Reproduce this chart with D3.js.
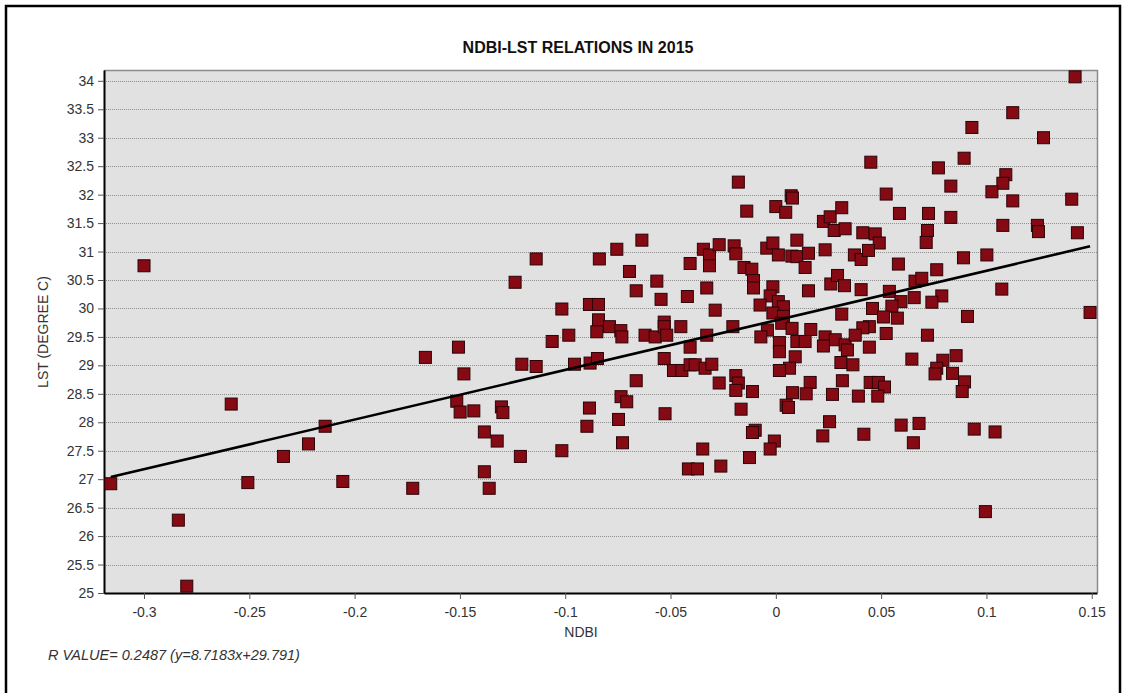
<!DOCTYPE html>
<html>
<head>
<meta charset="utf-8">
<script src="https://cdn.jsdelivr.net/npm/d3@7"></script>
<style>
  html, body { margin: 0; padding: 0; background: #ffffff; }
  svg { display: block; font-family: "Liberation Sans", Arial, sans-serif; }
</style>
</head>
<body>
<svg id="chart" width="1127" height="693"></svg>
<script>
// NDBI vs land surface temperature, 2015 sample points
const ndbi = [
  -0.3158, -0.3000, -0.2837, -0.2797, -0.2586, -0.2507, -0.2338, -0.2219, -0.2140, -0.2056,
  -0.1724, -0.1664, -0.1507, -0.1481, -0.1515, -0.1499, -0.1434, -0.1384, -0.1323, -0.1384,
  -0.1361, -0.1303, -0.1296, -0.1213, -0.1206, -0.1138, -0.1138, -0.1238, -0.1062, -0.0983,
  -0.1016, -0.1016, -0.0956, -0.0885, -0.0897, -0.0882, -0.0847, -0.0885, -0.0842, -0.0838,
  -0.0842, -0.0850, -0.0790, -0.0736, -0.0731, -0.0755, -0.0695, -0.0636, -0.0663, -0.0565,
  -0.0545, -0.0621, -0.0573, -0.0530, -0.0530, -0.0518, -0.0451, -0.0420, -0.0407, -0.0344,
  -0.0315, -0.0315, -0.0269, -0.0328, -0.0288, -0.0328, -0.0204, -0.0198, -0.0190, -0.0151,
  -0.0114, -0.0106, -0.0106, -0.0178, -0.0138, -0.0043, -0.0014, 0.0012, -0.0014, -0.0027,
  -0.0075, 0.0012, 0.0036, -0.0014, 0.0036, 0.0028, 0.0000, 0.0047, 0.0073, 0.0079,
  0.0100, 0.0076, 0.0100, 0.0155, 0.0139, 0.0155, 0.0234, 0.0226, 0.0258, 0.0277,
  0.0313, 0.0329, 0.0261, 0.0293, 0.0326, 0.0313, 0.0077, 0.0166, 0.0234, 0.0282,
  -0.0040, -0.0071, -0.0663, -0.0735, -0.0708, -0.0747, -0.0728, -0.0530, -0.0486, -0.0446,
  -0.0407, -0.0407, -0.0383, -0.0336, -0.0304, -0.0526, -0.0269, -0.0190, -0.0178, -0.0190,
  -0.0111, -0.0165, -0.0098, -0.0111, -0.0347, -0.0415, -0.0372, -0.0261, -0.0125, -0.0007,
  -0.0027, 0.0017, 0.0017, 0.0092, 0.0065, 0.0017, 0.0163, 0.0079, 0.0144, 0.0049,
  0.0060, 0.0100, 0.0139, 0.0226, 0.0329, 0.0309, 0.0316, 0.0269, 0.0255, 0.0223,
  0.1421, 0.1125, 0.1271, 0.0931, 0.0894, 0.0451, 0.0772, 0.0831, 0.1092, 0.1078,
  0.1026, 0.1125, 0.1405, 0.0524, 0.0587, 0.0725, 0.0831, 0.1078, 0.1242, 0.1247,
  0.1432, 0.0413, 0.0472, 0.0491, 0.0720, 0.0714, 0.0373, 0.0405, 0.0440, 0.0891,
  0.1002, 0.0582, 0.0764, 0.0405, 0.0661, 0.0693, 0.0539, 0.1073, 0.0594, 0.0657,
  0.0788, 0.0741, 0.0551, 0.0459, 0.0511, 0.0577, 0.0910, 0.1492, 0.0444, 0.0413,
  0.0377, 0.0524, 0.0720, 0.0340, 0.0444, 0.0366, 0.0646, 0.0793, 0.0856, 0.0764,
  0.0756, 0.0839, 0.0896, 0.0885, 0.0448, 0.0487, 0.0516, 0.0392, 0.0484, 0.0595,
  0.0680, 0.0653, 0.0418, 0.0942, 0.1041, 0.0995
];
const lst = [
  26.92, 30.75, 26.28, 25.12, 28.32, 26.94, 27.40, 27.62, 27.93, 26.96,
  26.84, 29.14, 29.32, 28.85, 28.37, 28.18, 28.20, 27.83, 27.67, 27.13,
  26.84, 28.27, 28.17, 27.40, 29.02, 28.98, 30.87, 30.46, 29.42, 29.53,
  29.99, 27.50, 29.02, 28.25, 27.93, 29.04, 29.12, 30.07, 30.07, 30.87,
  29.80, 29.59, 29.68, 29.61, 29.50, 31.04, 30.65, 31.20, 30.31, 30.48,
  30.16, 29.53, 29.50, 29.76, 29.68, 29.53, 29.68, 30.21, 30.79, 31.04,
  30.94, 30.75, 31.12, 30.36, 29.97, 29.53, 29.68, 31.10, 30.96, 30.72,
  30.69, 30.49, 30.36, 32.22, 31.71, 31.06, 31.15, 30.94, 30.38, 30.22,
  30.06, 30.12, 30.03, 29.92, 29.86, 29.74, 31.79, 31.69, 31.98, 31.94,
  31.20, 30.92, 30.91, 30.97, 30.72, 30.31, 31.03, 31.53, 31.61, 31.37,
  31.77, 31.40, 30.43, 30.58, 30.40, 29.90, 29.65, 29.63, 29.50, 29.45,
  29.62, 29.50, 28.73, 28.45, 28.36, 28.05, 27.64, 29.12, 28.91, 28.91,
  29.32, 29.01, 29.01, 28.95, 29.02, 28.15, 28.69, 28.82, 28.69, 28.56,
  28.54, 28.23, 27.86, 27.82, 27.53, 27.18, 27.18, 27.23, 27.38, 27.67,
  27.53, 29.40, 29.24, 29.15, 28.95, 28.91, 28.70, 28.52, 28.50, 28.30,
  28.26, 29.42, 29.42, 29.34, 29.36, 29.05, 28.73, 28.49, 28.01, 27.76,
  34.07, 33.44, 33.00, 33.18, 32.64, 32.57, 32.47, 32.15, 32.35, 32.20,
  32.05, 31.89, 31.92, 32.01, 31.67, 31.67, 31.60, 31.46, 31.46, 31.35,
  31.33, 31.33, 31.31, 31.15, 31.37, 31.16, 30.94, 30.86, 31.02, 30.89,
  30.94, 30.78, 30.68, 30.33, 30.48, 30.53, 30.30, 30.34, 30.12, 30.19,
  30.22, 30.11, 30.04, 30.00, 29.85, 29.83, 29.86, 29.93, 29.68, 29.66,
  29.53, 29.56, 29.53, 29.27, 29.32, 29.01, 29.11, 29.09, 29.17, 28.95,
  28.85, 28.86, 28.71, 28.54, 28.70, 28.70, 28.62, 28.46, 28.46, 27.95,
  27.98, 27.64, 27.79, 27.88, 27.83, 26.43
];

const xTicks = [-0.3, -0.25, -0.2, -0.15, -0.1, -0.05, 0, 0.05, 0.1, 0.15];
const yTicks = [25, 25.5, 26, 26.5, 27, 27.5, 28, 28.5, 29, 29.5, 30, 30.5, 31, 31.5, 32, 32.5, 33, 33.5, 34];

// Linear fit reported with the chart
const slope = 8.7183;
const intercept = 29.791;
const rValue = 0.2487;

const titleText = "NDBI-LST RELATIONS IN 2015";
const xLabel = "NDBI";
const yLabel = "LST (DEGREE C)";

const svg = d3.select("#chart");
const font = "'Liberation Sans', Arial, sans-serif";

// outer frame
svg.append("rect")
  .attr("x", 6).attr("y", 6)
  .attr("width", 1114).attr("height", 690)
  .attr("fill", "#ffffff").attr("stroke", "#000").attr("stroke-width", 2.5);

const plot = { left: 104, right: 1097, top: 70, bottom: 593 };

const x = d3.scaleLinear().domain([-0.319, 0.1525]).range([plot.left, plot.right]);
const y = d3.scaleLinear().domain([25, 34.19]).range([plot.bottom, plot.top]);

// plot background
svg.append("rect")
  .attr("x", plot.left).attr("y", plot.top)
  .attr("width", plot.right - plot.left).attr("height", plot.bottom - plot.top)
  .attr("fill", "#e1e1e1");

// horizontal dotted grid
svg.append("g").selectAll("line").data(yTicks).join("line")
  .attr("x1", plot.left).attr("x2", plot.right)
  .attr("y1", d => Math.round(y(d)) + 0.5).attr("y2", d => Math.round(y(d)) + 0.5)
  .attr("stroke", "#8f8f8f").attr("stroke-width", 1)
  .attr("stroke-dasharray", "1,1");

// top and right border of the plot area
svg.append("path")
  .attr("d", `M${plot.left},${plot.top + 0.5}H${plot.right + 0.5}V${plot.bottom}`)
  .attr("fill", "none").attr("stroke", "#8c8c8c").attr("stroke-width", 1.5);

// axes
const xAxis = d3.axisBottom(x).tickValues(xTicks).tickSize(6).tickSizeOuter(0)
  .tickFormat(d => String(+d.toFixed(2)));
const yAxis = d3.axisLeft(y).tickValues(yTicks).tickSize(6).tickSizeOuter(0)
  .tickFormat(d => String(d));

const gx = svg.append("g").attr("transform", `translate(0,${plot.bottom})`).call(xAxis);
const gy = svg.append("g").attr("transform", `translate(${plot.left},0)`).call(yAxis);

[gx, gy].forEach(g => {
  g.select(".domain").attr("stroke", "#000").attr("stroke-width", 2);
  g.selectAll(".tick line").attr("stroke", "#555").attr("stroke-width", 1);
  g.selectAll(".tick text")
    .attr("fill", "#333")
    .style("font-size", "14px")
    .style("font-family", font);
});
gx.selectAll(".tick text").attr("y", 24).attr("dy", null);
gy.selectAll(".tick text").attr("x", -10);

// points
const pts = ndbi.map((v, i) => ({ x: v, y: lst[i] }));
const size = 12;
svg.append("g").selectAll("rect").data(pts).join("rect")
  .attr("x", d => x(d.x) - size / 2)
  .attr("y", d => y(d.y) - size / 2)
  .attr("width", size).attr("height", size)
  .attr("fill", "#860a14")
  .attr("stroke", "#2b0306").attr("stroke-width", 1);

// regression line across the data extent
const [xmin, xmax] = d3.extent(ndbi);
svg.append("line")
  .attr("x1", x(xmin)).attr("y1", y(slope * xmin + intercept))
  .attr("x2", x(xmax)).attr("y2", y(slope * xmax + intercept))
  .attr("stroke", "#000").attr("stroke-width", 2.6);

// titles
svg.append("text")
  .attr("x", 578).attr("y", 53)
  .attr("text-anchor", "middle")
  .style("font-size", "16px").style("font-weight", "bold")
  .style("font-family", font)
  .attr("fill", "#111")
  .text(titleText);

svg.append("text")
  .attr("x", 581).attr("y", 637)
  .attr("text-anchor", "middle")
  .style("font-size", "14px").style("font-family", font).attr("fill", "#333")
  .text(xLabel);

svg.append("text")
  .attr("transform", `translate(48,${332}) rotate(-90)`)
  .attr("text-anchor", "middle")
  .style("font-size", "14px").style("font-family", font).attr("fill", "#333")
  .text(yLabel);

svg.append("text")
  .attr("x", 48).attr("y", 660)
  .style("font-size", "14.5px").style("font-style", "italic").style("font-family", font)
  .attr("fill", "#333")
  .text(`R VALUE= ${rValue} (y=${slope}x+${intercept})`);
</script>
</body>
</html>
